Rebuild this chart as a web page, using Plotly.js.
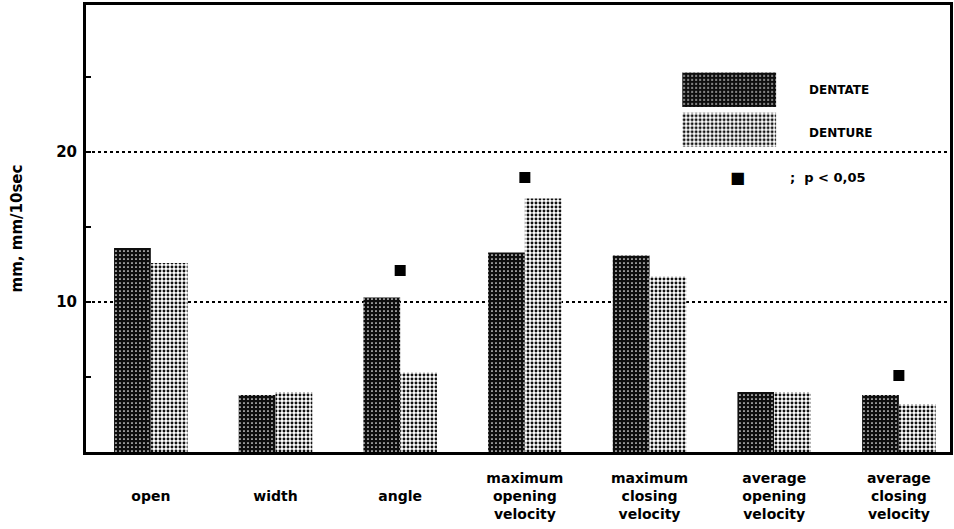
<!DOCTYPE html>
<html>
<head>
<meta charset="utf-8">
<script src="https://cdn.plot.ly/plotly-3.0.1.min.js"></script>
<style>html,body{margin:0;padding:0;background:#fff}#chart{width:954px;height:529px}</style>
</head>
<body>
<div id="chart"></div>
<script>
// ---- data ----
const categories = ['open', 'width', 'angle', 'maximum opening velocity', 'maximum closing velocity', 'average opening velocity', 'average closing velocity'];
const tickLabels = [' <br>open', ' <br>width', ' <br>angle', 'maximum<br>opening<br>velocity', 'maximum<br>closing<br>velocity', 'average<br>opening<br>velocity', 'average<br>closing<br>velocity'];
const dentate = [13.6, 3.8, 10.3, 13.3, 13.1, 4.0, 3.8];
const denture = [12.6, 4.0, 5.3, 16.9, 11.7, 4.0, 3.2];
const significance = [null, null, 12.1, 18.3, null, null, 5.1];
const yTickVals = [5, 10, 15, 20, 25];
const yTickText = ['', '10', '', '20', ''];
const gridValues = [10, 20];

const FONT = 'DejaVu Sans, Liberation Sans, sans-serif';
const darkPattern = {shape: '.', bgcolor: '#0e0e0e', fgcolor: '#ffffff', size: 4, solidity: 0.15, fillmode: 'replace'};
const lightPattern = {shape: '.', bgcolor: '#ffffff', fgcolor: '#111111', size: 4, solidity: 0.42, fillmode: 'replace'};

const traces = [
  {type: 'bar', x: categories, y: dentate, name: 'DENTATE', showlegend: false,
   marker: {color: '#0e0e0e', pattern: darkPattern, line: {width: 0}}, hoverinfo: 'x+y'},
  {type: 'bar', x: categories, y: denture, name: 'DENTURE', showlegend: false,
   marker: {color: '#ffffff', pattern: lightPattern, line: {width: 0}}, hoverinfo: 'x+y'},
  {type: 'scatter', mode: 'markers', x: categories, y: significance, showlegend: false,
   marker: {symbol: 'square', size: 11, color: '#000'}, hoverinfo: 'x+y'},
  // legend swatches on a small overlay axis
  {type: 'bar', orientation: 'h', x: [1], y: [1], xaxis: 'x2', yaxis: 'y2', width: 0.86, showlegend: false,
   marker: {color: '#0e0e0e', pattern: darkPattern, line: {width: 0}}, hoverinfo: 'skip'},
  {type: 'bar', orientation: 'h', x: [1], y: [0], xaxis: 'x2', yaxis: 'y2', width: 0.86, showlegend: false,
   marker: {color: '#ffffff', pattern: lightPattern, line: {width: 0}}, hoverinfo: 'skip'}
];

const shapes = gridValues.map(v => ({
  type: 'line', xref: 'paper', yref: 'y', x0: 0, x1: 1, y0: v, y1: v,
  line: {color: '#000', width: 2, dash: 'dot'}, layer: 'below'
}));

const layout = {
  width: 954, height: 529,
  margin: {l: 86, r: 4, t: 5, b: 77},
  paper_bgcolor: '#fff', plot_bgcolor: '#fff',
  barmode: 'group', bargap: 0.41, bargroupgap: 0,
  font: {family: FONT, color: '#000'},
  xaxis: {
    type: 'category', range: [-0.52, 6.41],
    tickvals: categories, ticktext: tickLabels,
    ticks: '', ticklabelstandoff: 11,
    tickfont: {family: FONT, size: 14, weight: 'bold', color: '#000'},
    showline: true, linewidth: 3, linecolor: '#000', mirror: true,
    showgrid: false, zeroline: false, fixedrange: true
  },
  yaxis: {
    range: [0, 29.8],
    tickvals: yTickVals, ticktext: yTickText,
    ticks: 'inside', ticklen: 5, tickwidth: 2, tickcolor: '#000',
    tickfont: {family: FONT, size: 15, weight: 'bold', color: '#000'},
    ticklabelstandoff: 3,
    showline: true, linewidth: 3, linecolor: '#000', mirror: true,
    showgrid: false, zeroline: false, fixedrange: true,
    title: {text: 'mm, mm/10sec', standoff: 30, font: {family: FONT, size: 15, weight: 'bold', color: '#000'}}
  },
  xaxis2: {domain: [0.690, 0.799], range: [0, 1], anchor: 'y2', visible: false, fixedrange: true},
  yaxis2: {domain: [0.676, 0.855], range: [-0.5, 1.5], anchor: 'x2', visible: false, fixedrange: true},
  shapes: shapes,
  annotations: [
    {xref: 'paper', yref: 'paper', x: 0.834, y: 0.809, xanchor: 'left', yanchor: 'middle', showarrow: false,
     text: 'DENTATE', font: {family: FONT, size: 12, weight: 'bold', color: '#000'}},
    {xref: 'paper', yref: 'paper', x: 0.834, y: 0.713, xanchor: 'left', yanchor: 'middle', showarrow: false,
     text: 'DENTURE', font: {family: FONT, size: 12, weight: 'bold', color: '#000'}},
    {xref: 'paper', yref: 'paper', x: 0.754, y: 0.613, xanchor: 'center', yanchor: 'middle', showarrow: false,
     text: '■', font: {family: FONT, size: 16, color: '#000'}},
    {xref: 'paper', yref: 'paper', x: 0.812, y: 0.613, xanchor: 'left', yanchor: 'middle', showarrow: false,
     text: ';  p < 0,05', font: {family: FONT, size: 13, weight: 'bold', color: '#000'}}
  ]
};

Plotly.newPlot('chart', traces, layout, {displayModeBar: false, staticPlot: true});
</script>
</body>
</html>
